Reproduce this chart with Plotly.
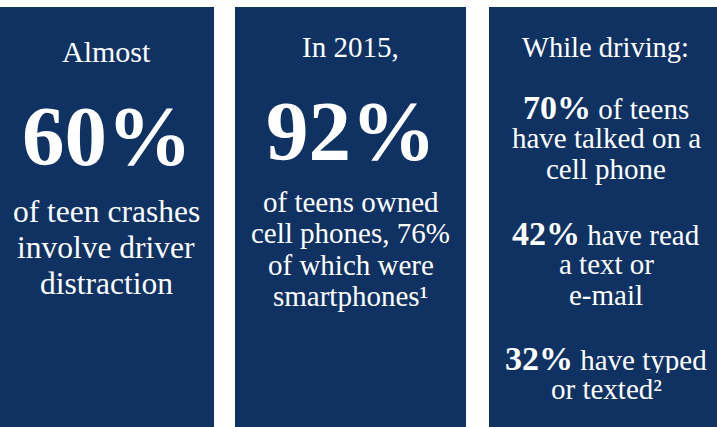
import plotly.graph_objects as go

# ---- data ----
panel_left = [0, 235, 489]
panel_right = [214, 466, 717]
intro_lines = ["Almost", "In 2015,", "While driving:"]
big_values = [60, 92]
panel1_lines = ["of teen crashes", "involve driver", "distraction"]
panel2_lines = ["of teens owned", "cell phones, 76%", "of which were", "smartphones¹"]
panel3_values = [70, 42, 32]
panel3_first = [" of teens", " have read", " have typed"]
panel3_rest = [["have talked on a", "cell phone"], ["a text or", "e-mail"], ["or texted²"]]

W, H = 717, 427
BG = "#0f3263"
FONT = "Liberation Serif"

fig = go.Figure()
fig.add_trace(go.Scatter(x=[0, W], y=[0, H], mode="markers", marker=dict(opacity=0), hoverinfo="skip", showlegend=False))

for l, r in zip(panel_left, panel_right):
    fig.add_shape(type="rect", x0=l, x1=r, y0=7, y1=H, fillcolor=BG, line=dict(width=0), layer="below")

centers = [(l + r) / 2 for l, r in zip(panel_left, panel_right)]


def txt(x, baseline, text, size, bold=False, box_h=None):
    t = f"<b>{text}</b>" if bold else text
    kw = {}
    if box_h is not None:
        kw["height"] = box_h
    fig.add_annotation(x=x, y=baseline - 0.34 * size, text=t, showarrow=False,
                       xanchor="center", yanchor="middle",
                       font=dict(family=FONT, size=size, color="white"), **kw)


# intros
txt(centers[0] - 1, 62, intro_lines[0], 30)
txt(centers[1], 57, intro_lines[1], 29)
txt(centers[2] + 2, 57, intro_lines[2], 28.5)

# big numbers
txt(centers[0] + 0, 165, f"{big_values[0]}%", 85, bold=True)
txt(centers[1] + 0, 160, f"{big_values[1]}%", 85, bold=True)

# panel 1 body
for i, line in enumerate(panel1_lines):
    txt(centers[0] - 1, 222 + 36 * i, line, 31.5)

# panel 2 body
for i, line in enumerate(panel2_lines):
    txt(centers[1], 212 + 31.3 * i, line, 29)

# panel 3 blocks
block_base = [117, 243, 368]
for v, first, rest, b in zip(panel3_values, panel3_first, panel3_rest, block_base):
    t = f"<span style='font-size:34px'><b>{v}%</b></span>{first}"
    txt(centers[2] + 3, b, t, 29, box_h=30)
    for j, line in enumerate(rest):
        txt(centers[2] + 3, b + 31 * (j + 1), line, 29)

fig.update_layout(
    width=W, height=H, margin=dict(l=0, r=0, t=0, b=0),
    paper_bgcolor="white", plot_bgcolor="white",
    xaxis=dict(range=[0, W], visible=False, fixedrange=True),
    yaxis=dict(range=[H, 0], visible=False, fixedrange=True),
    showlegend=False,
)
fig.write_html("out.html", config={"displayModeBar": False},
               post_script="document.body.style.margin='0';document.body.style.padding='0';document.body.style.overflow='hidden';")
